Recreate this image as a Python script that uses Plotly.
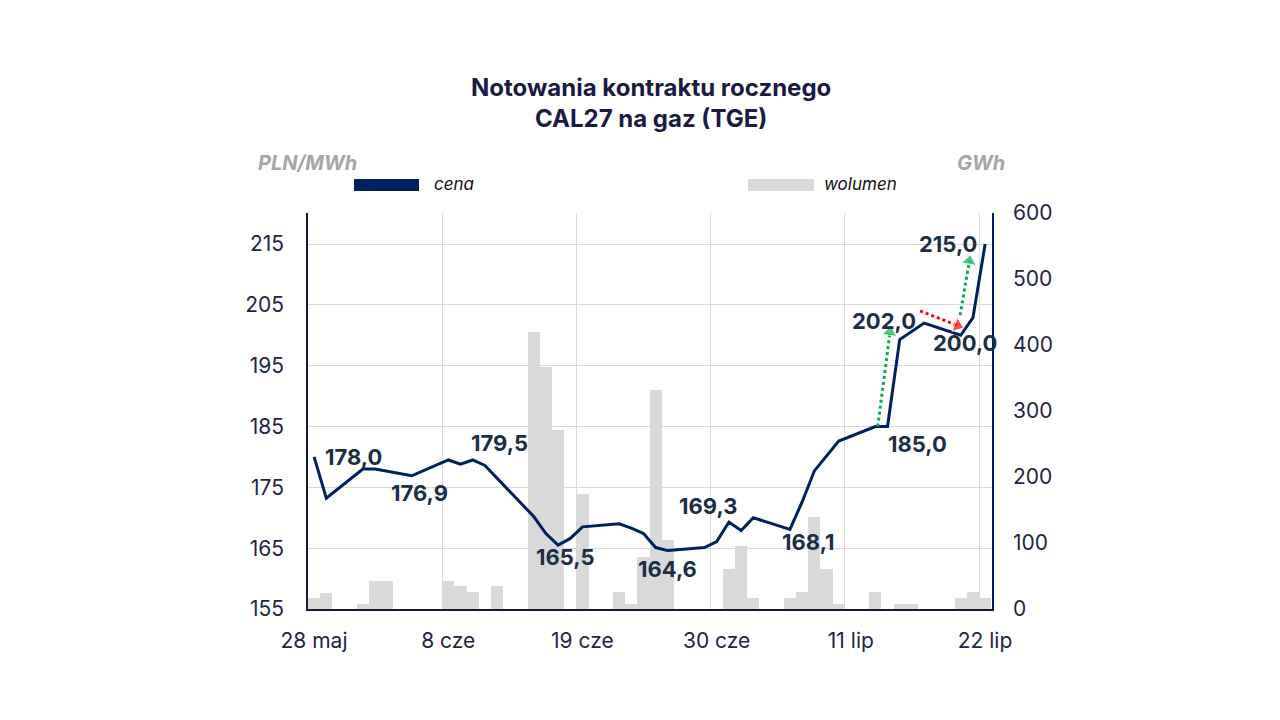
import plotly.graph_objects as go
import pandas as pd

# ---------------- data ----------------
price_dates = ["2026-05-28", "2026-05-29", "2026-06-01", "2026-06-02", "2026-06-05",
               "2026-06-08", "2026-06-09", "2026-06-10", "2026-06-11", "2026-06-15",
               "2026-06-16", "2026-06-17", "2026-06-18", "2026-06-19", "2026-06-22",
               "2026-06-23", "2026-06-24", "2026-06-25", "2026-06-26", "2026-06-29",
               "2026-06-30", "2026-07-01", "2026-07-02", "2026-07-03", "2026-07-06",
               "2026-07-07", "2026-07-08", "2026-07-10", "2026-07-13", "2026-07-14",
               "2026-07-15", "2026-07-17", "2026-07-20", "2026-07-21", "2026-07-22"]
price_values = [180.0, 173.2, 178.0, 178.0, 176.9,
                179.5, 178.8, 179.5, 178.6, 170.2,
                167.4, 165.5, 166.6, 168.5, 169.0,
                168.3, 167.4, 165.1, 164.6, 165.1,
                166.1, 169.3, 167.9, 170.0, 168.1,
                172.6, 177.7, 182.6, 185.0, 185.0,
                199.3, 202.0, 200.0, 202.9, 215.0]

volume_dates = ["2026-05-28", "2026-05-29", "2026-06-01", "2026-06-02", "2026-06-03",
                "2026-06-08", "2026-06-09", "2026-06-10", "2026-06-12", "2026-06-15",
                "2026-06-16", "2026-06-17", "2026-06-19", "2026-06-22", "2026-06-23",
                "2026-06-24", "2026-06-25", "2026-06-26", "2026-07-01", "2026-07-02",
                "2026-07-03", "2026-07-06", "2026-07-07", "2026-07-08", "2026-07-09",
                "2026-07-10", "2026-07-13", "2026-07-15", "2026-07-16", "2026-07-20",
                "2026-07-21", "2026-07-22"]
volume_values = [17, 25, 8, 42, 42,
                 42, 35, 26, 35, 420,
                 367, 271, 174, 26, 8,
                 79, 332, 104, 61, 96,
                 17, 17, 26, 139, 61,
                 8, 26, 8, 8, 17,
                 26, 17]

tick_dates = ["2026-05-28", "2026-06-08", "2026-06-19", "2026-06-30", "2026-07-11", "2026-07-22"]
tick_labels = ["28 maj", "8 cze", "19 cze", "30 cze", "11 lip", "22 lip"]

left_ticks = [155, 165, 175, 185, 195, 205, 215]
right_ticks = [0, 100, 200, 300, 400, 500, 600]

# data labels
label_dates = ["2026-06-01", "2026-06-05", "2026-06-10", "2026-06-17", "2026-06-26",
               "2026-07-01", "2026-07-06", "2026-07-14", "2026-07-17", "2026-07-20", "2026-07-22"]
label_values = [178.0, 176.9, 179.5, 165.5, 164.6, 169.3, 168.1, 185.0, 202.0, 200.0, 215.0]
label_texts = ["178,0", "176,9", "179,5", "165,5", "164,6", "169,3", "168,1", "185,0", "202,0", "200,0", "215,0"]

# arrows: start date, start value, end date, end value, colour
arrow_x0 = ["2026-07-13 04:48", "2026-07-16 16:00", "2026-07-19 22:48"]
arrow_y0 = [185.0, 204.0, 203.3]
arrow_x1 = ["2026-07-14 04:48", "2026-07-19 18:00", "2026-07-20 17:00"]
arrow_y1 = [200.5, 201.6, 212.2]
arrow_colors = ["#00b050", "#ff0000", "#00b050"]

# ---------------- style ----------------
NAVY = "#002060"
TXT = "#1f2547"
LBL = "#1c2e45"
GRID = "#d9d9d9"
BAR = "#d9d9d9"
FONT = "Inter"

OFF = 8  # page body margin
L, R, T, B = 308, 992, 213, 609   # target plot area on screen
W, H = 1280, 720

fig = go.Figure()

fig.add_trace(go.Bar(
    x=volume_dates, y=volume_values, width=86400000,
    marker=dict(color=BAR, line=dict(width=0)),
    xaxis="x", yaxis="y", hoverinfo="skip", name="wolumen",
))

fig.add_trace(go.Scatter(
    x=price_dates, y=price_values, mode="lines",
    line=dict(color=NAVY, width=3),
    xaxis="x", yaxis="y2", name="cena",
))

for i in range(len(arrow_x0)):
    fig.add_trace(go.Scatter(
        x=[arrow_x0[i], arrow_x1[i]], y=[arrow_y0[i], arrow_y1[i]],
        mode="lines+markers",
        line=dict(color=arrow_colors[i], width=3, dash="dot"),
        marker=dict(symbol="triangle-up", size=[0, 13], angleref="previous",
                    color=arrow_colors[i]),
        xaxis="x", yaxis="y2", hoverinfo="skip",
    ))

annotations = []
shifts = [(-9, 12), (8, -17), (27, 17), (7, -12), (0, -18), (-21, 16), (18, -13),
          (30, -17), (-40, 2), (4, -8), (-37, 0)]
for d, v, t, (sx, sy) in zip(label_dates, label_values, label_texts, shifts):
    annotations.append(dict(
        x=d, y=v, xref="x", yref="y2", text=t, showarrow=False,
        xshift=sx, yshift=sy, xanchor="center", yanchor="middle",
        font=dict(family=FONT, size=22, color=LBL, weight="bold"),
    ))

def px(x):
    return (x - L) / (R - L)

def py(y):
    return (B - y) / (B - T)

# title
annotations.append(dict(
    x=px(651), y=py(103), xref="paper", yref="paper", showarrow=False,
    xanchor="center", yanchor="middle",
    text="<b>Notowania kontraktu rocznego<br>CAL27 na gaz (TGE)</b>",
    font=dict(family=FONT, size=24, color="#1a1a45"), align="center",
))
# axis titles
annotations.append(dict(x=px(307), y=py(163), xref="paper", yref="paper", showarrow=False,
                        xanchor="center", yanchor="middle",
                        text="<b><i>PLN/MWh</i></b>",
                        font=dict(family=FONT, size=20, color="#a6a6a6")))
annotations.append(dict(x=px(981), y=py(163), xref="paper", yref="paper", showarrow=False,
                        xanchor="center", yanchor="middle",
                        text="<b><i>GWh</i></b>",
                        font=dict(family=FONT, size=20, color="#a6a6a6")))
# legend
annotations.append(dict(x=px(432), y=py(184), xref="paper", yref="paper", showarrow=False,
                        xanchor="left", yanchor="middle", text="<i>cena</i>",
                        font=dict(family=FONT, size=17, color="#111111")))
annotations.append(dict(x=px(822), y=py(184), xref="paper", yref="paper", showarrow=False,
                        xanchor="left", yanchor="middle", text="<i>wolumen</i>",
                        font=dict(family=FONT, size=17, color="#111111")))

shapes = [
    dict(type="rect", xref="paper", yref="paper", x0=px(354), x1=px(419),
         y0=py(191), y1=py(179), fillcolor=NAVY, line=dict(width=0)),
    dict(type="rect", xref="paper", yref="paper", x0=px(748), x1=px(814),
         y0=py(191), y1=py(179), fillcolor=BAR, line=dict(width=0)),
]

grid_vals = [pd.Timestamp(d) - pd.Timedelta(hours=12) for d in tick_dates]

fig.update_layout(
    width=W, height=H,
    margin=dict(l=L - OFF, r=W - (R - OFF), t=T - OFF, b=H - (B - OFF), pad=0),
    paper_bgcolor="white", plot_bgcolor="white",
    showlegend=False, bargap=0,
    font=dict(family=FONT, color=TXT),
    xaxis=dict(
        type="date",
        range=["2026-05-27 12:00", "2026-07-22 13:30"],
        tickmode="array", tickvals=grid_vals, ticktext=tick_labels,
        ticklabelshift=6, ticklabelstandoff=12,
        showgrid=True, gridcolor=GRID, gridwidth=1,
        showline=True, linecolor="#1a1a2e", linewidth=1.5,
        ticks="", tickfont=dict(size=21, color=TXT, family=FONT),
        zeroline=False,
    ),
    yaxis=dict(
        side="right", range=[0, 600], tickvals=right_ticks,
        showgrid=False, zeroline=False,
        showline=True, linecolor=NAVY, linewidth=1.5,
        ticks="", ticklabelstandoff=15,
        tickfont=dict(size=21, color=TXT, family=FONT),
    ),
    yaxis2=dict(
        side="left", overlaying="y", range=[155, 220.1], tickvals=left_ticks,
        showgrid=True, gridcolor=GRID, gridwidth=1, zeroline=False,
        showline=True, linecolor="#1a1a2e", linewidth=1.5,
        ticks="", ticklabelstandoff=18,
        tickfont=dict(size=21, color=TXT, family=FONT),
    ),
    annotations=annotations,
    shapes=shapes,
)

fig.write_html("out.html")
